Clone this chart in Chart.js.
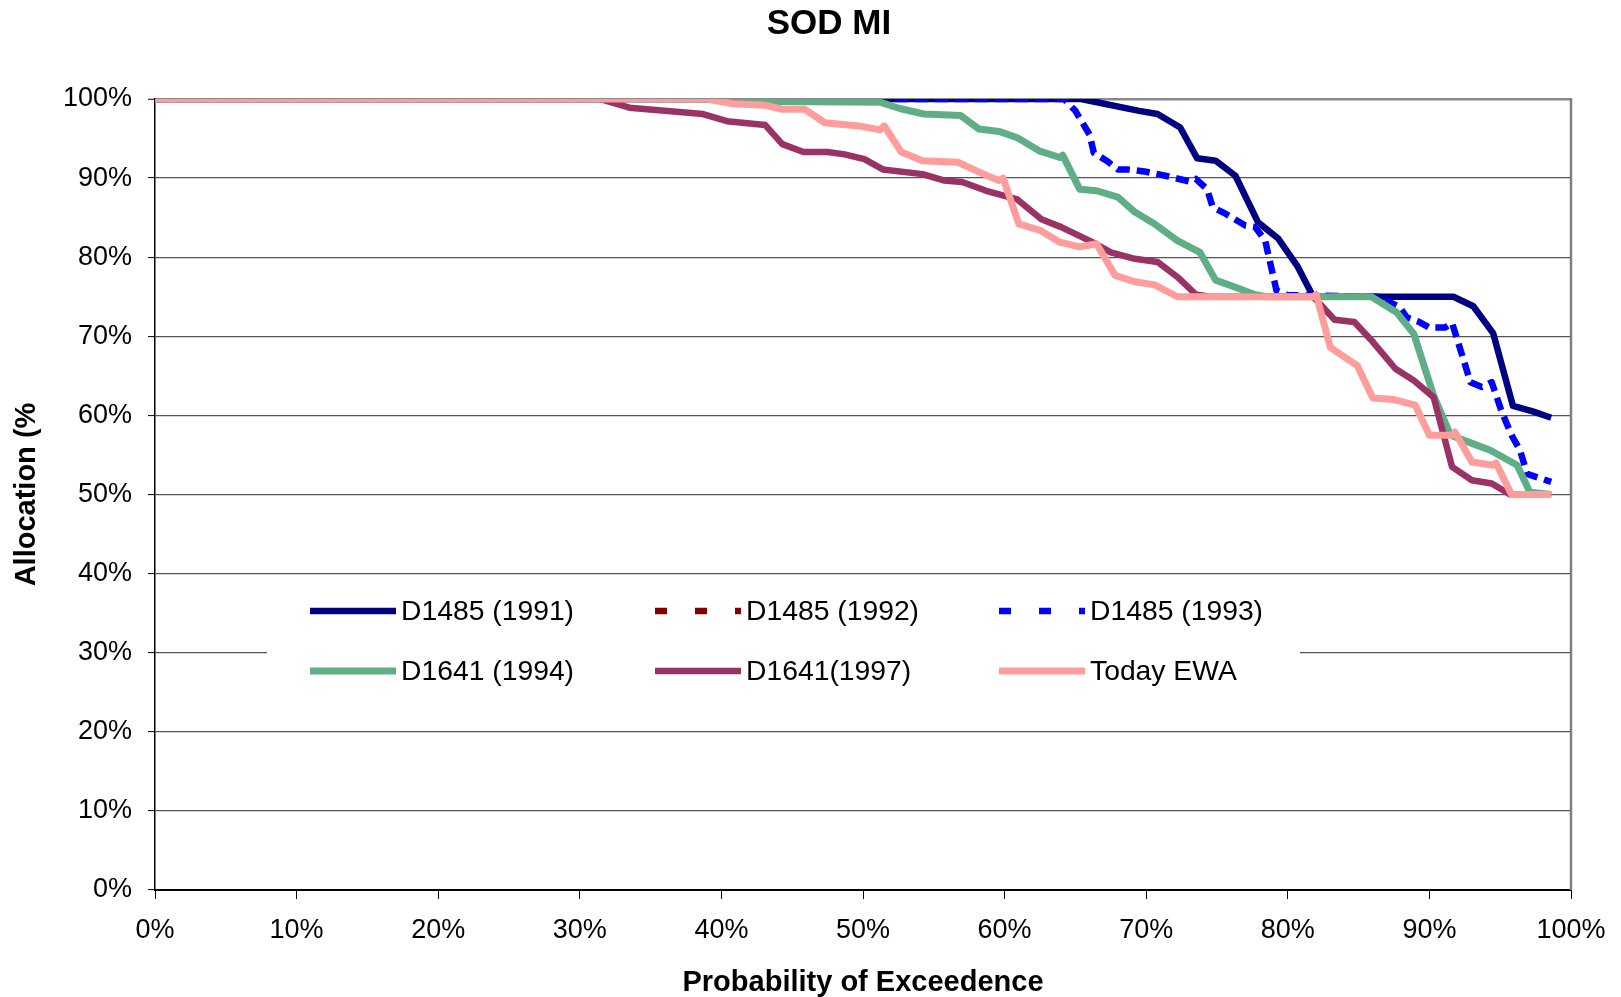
<!DOCTYPE html>
<html>
<head>
<meta charset="utf-8">
<script src="https://cdn.jsdelivr.net/npm/chart.js@4/dist/chart.umd.min.js"></script>
<style>
html,body{margin:0;padding:0;background:#ffffff;}
#wrap{width:1621px;height:997px;position:relative;}
</style>
</head>
<body>
<div id="wrap"><canvas id="chart" width="1621" height="997"></canvas></div>
<script>
// ---- text ----
const chartTitle = 'SOD MI';
const xAxisTitle = 'Probability of Exceedence';
const yAxisTitle = 'Allocation (%';

// ---- ticks ----
const xTickValues = [0, 10, 20, 30, 40, 50, 60, 70, 80, 90, 100];
const yTickValues = [0, 10, 20, 30, 40, 50, 60, 70, 80, 90, 100];

// ---- series names ----
const seriesNames = ['D1485 (1991)', 'D1485 (1992)', 'D1485 (1993)', 'D1641 (1994)', 'D1641(1997)', 'Today EWA'];

// ---- series values (x = probability of exceedence %, y = allocation %) ----
const d1991X = [0, 65.4, 69.5, 70.8, 72.4, 73.6, 74.9, 76.3, 77.9, 79.3, 80.7, 81.8, 91.7, 93.1, 94.5, 95.9, 97.3, 98.6];
const d1991Y = [100, 100, 98.5, 98.1, 96.4, 92.5, 92.2, 90.3, 84.4, 82.4, 78.8, 75, 75, 73.8, 70.4, 61.2, 60.5, 59.7];

const d1992X = [];
const d1992Y = [];

const d1993X = [0, 64.2, 65.0, 66.0, 66.3, 67.2, 68.0, 68.7, 70.0, 71.6, 73.0, 73.5, 74.3, 74.7, 75.6, 77.0, 77.7, 78.4, 79.2, 80.0, 86.4, 87.9, 88.4, 89.3, 90.0, 91.1, 91.6, 92.9, 93.7, 94.4, 95.1, 95.8, 96.4, 96.9, 98.6];
const d1993Y = [100, 100, 98.5, 95.5, 93.2, 92.2, 91.1, 91.1, 90.8, 90.2, 89.6, 89.9, 88.6, 86.3, 85.5, 84.0, 83.8, 82.1, 75.8, 75.2, 75.0, 73.7, 72.4, 71.8, 71.1, 71.1, 71.7, 64.2, 63.6, 64.2, 60.5, 57.5, 55.6, 52.6, 51.6];

const d1994X = [0, 39.2, 41.3, 51.2, 52.6, 54.3, 56.9, 58.2, 59.6, 60.9, 62.5, 63.9, 64.1, 65.3, 66.5, 68.0, 69.2, 70.6, 72.2, 73.8, 74.9, 76.3, 77.6, 78.5, 85.9, 87.7, 88.9, 90.3, 91.5, 93.1, 94.3, 96.2, 97.1, 98.6];
const d1994Y = [100, 100, 99.7, 99.6, 98.8, 98.1, 97.9, 96.2, 95.9, 95.1, 93.4, 92.6, 92.9, 88.6, 88.4, 87.6, 85.7, 84.2, 82.1, 80.6, 77.1, 76.2, 75.3, 75, 75, 73.0, 70.3, 62.5, 57.5, 56.4, 55.6, 53.7, 50.3, 50];

const d1997X = [0, 31.4, 33.5, 38.7, 40.4, 43.1, 44.3, 45.8, 47.5, 48.7, 50.1, 51.4, 54.2, 55.7, 57.0, 58.7, 60.9, 62.6, 64.0, 66.2, 67.5, 69.2, 70.8, 72.2, 73.5, 74.5, 81.8, 83.3, 84.7, 86.0, 87.6, 88.9, 90.3, 91.6, 93.0, 94.4, 95.7, 98.6];
const d1997Y = [100, 100, 98.9, 98.1, 97.2, 96.7, 94.3, 93.3, 93.3, 93.0, 92.4, 91.1, 90.5, 89.7, 89.5, 88.4, 87.3, 84.8, 83.8, 81.9, 80.6, 79.8, 79.4, 77.5, 75.3, 75, 75, 72.1, 71.8, 69.3, 65.9, 64.4, 62.3, 53.5, 51.8, 51.4, 50, 50];

const ewaX = [0, 39.0, 40.8, 43.1, 44.3, 45.9, 47.3, 49.7, 51.2, 51.5, 52.7, 54.2, 56.7, 58.4, 59.6, 59.9, 61.0, 62.5, 63.9, 65.3, 66.5, 67.8, 69.2, 70.6, 72.2, 81.8, 82.0, 83.0, 84.9, 86.0, 87.5, 89.0, 90.0, 91.6, 91.8, 93.0, 94.5, 94.7, 95.8, 98.6];
const ewaY = [100, 100, 99.4, 99.2, 98.7, 98.7, 97.0, 96.6, 96.1, 96.6, 93.3, 92.2, 92.0, 90.6, 89.7, 90.0, 84.2, 83.4, 81.9, 81.3, 81.7, 77.7, 76.9, 76.5, 75, 75, 75.3, 68.6, 66.3, 62.2, 62.0, 61.3, 57.5, 57.5, 57.9, 54.1, 53.7, 54.0, 50, 50];

// ---- styles ----
const FONT = "'Liberation Sans', Arial, Helvetica, sans-serif";
const seriesStyles = [
  {color: '#000080', width: 6.5, dash: [], legendDash: []},
  {color: '#800000', width: 6.5, dash: [13, 7], legendDash: [12, 28]},
  {color: '#0000ff', width: 6.5, dash: [13, 7], legendDash: [12, 28]},
  {color: '#60ae86', width: 7, dash: [], legendDash: []},
  {color: '#993366', width: 6.5, dash: [], legendDash: []},
  {color: '#ff9d9d', width: 7, dash: [], legendDash: []}
];

function zip(xs, ys) { return xs.map((x, i) => ({x: x, y: ys[i]})); }
const seriesData = [zip(d1991X, d1991Y), zip(d1992X, d1992Y), zip(d1993X, d1993Y), zip(d1994X, d1994Y), zip(d1997X, d1997Y), zip(ewaX, ewaY)];

const datasets = seriesNames.map((name, i) => ({
  label: name,
  data: seriesData[i],
  borderColor: seriesStyles[i].color,
  backgroundColor: seriesStyles[i].color,
  borderWidth: seriesStyles[i].width,
  borderDash: seriesStyles[i].dash,
  borderJoinStyle: 'round',
  borderCapStyle: 'butt',
  pointRadius: 0,
  pointHoverRadius: 0,
  tension: 0,
  fill: false,
  order: seriesNames.length - i
}));

// custom title / border / legend
const decorPlugin = {
  id: 'decor',
  afterDraw(chart) {
    const ctx = chart.ctx;
    const ca = chart.chartArea;
    ctx.save();
    // right plot border
    ctx.strokeStyle = '#808080';
    ctx.lineWidth = 2.5;
    ctx.beginPath();
    ctx.moveTo(ca.right, ca.top - 1);
    ctx.lineTo(ca.right, ca.bottom);
    ctx.stroke();
    // title
    ctx.fillStyle = '#000';
    ctx.font = 'bold 35px ' + FONT;
    ctx.textAlign = 'center';
    ctx.textBaseline = 'middle';
    ctx.fillText(chartTitle, 829, 24);
    // legend box
    ctx.fillStyle = '#ffffff';
    ctx.fillRect(267, 582, 1033, 124);
    const cols = [310, 655, 999];
    const rows = [611, 671];
    const sampleLen = 86;
    ctx.font = '28.3px ' + FONT;
    ctx.textAlign = 'left';
    ctx.textBaseline = 'middle';
    seriesNames.forEach((name, i) => {
      const cx = cols[i % 3];
      const cy = rows[Math.floor(i / 3)];
      const st = seriesStyles[i];
      ctx.strokeStyle = st.color;
      ctx.lineWidth = st.width;
      ctx.lineCap = 'butt';
      ctx.setLineDash(st.legendDash);
      ctx.beginPath();
      ctx.moveTo(cx, cy);
      ctx.lineTo(cx + sampleLen, cy);
      ctx.stroke();
      ctx.setLineDash([]);
      ctx.fillStyle = '#000';
      ctx.fillText(name, cx + sampleLen + 5, cy + 1);
    });
    ctx.restore();
  }
};

new Chart(document.getElementById('chart'), {
  type: 'line',
  data: {datasets: datasets},
  plugins: [decorPlugin],
  options: {
    responsive: false,
    animation: false,
    devicePixelRatio: 1,
    layout: {padding: {top: 99, right: 50, bottom: 0, left: 0}},
    plugins: {
      legend: {display: false},
      title: {display: false},
      tooltip: {enabled: false}
    },
    scales: {
      x: {
        type: 'linear',
        min: 0,
        max: 100,
        afterBuildTicks(scale) { scale.ticks = xTickValues.map(v => ({value: v})); },
        afterFit(scale) { scale.height = 107; },
        ticks: {
          callback: v => v + '%',
          color: '#000',
          font: {family: FONT, size: 27},
          padding: 15,
          maxRotation: 0,
          autoSkip: false
        },
        grid: {
          drawOnChartArea: false,
          drawTicks: true,
          tickLength: 9,
          tickColor: '#000',
          tickWidth: 1
        },
        border: {display: true, color: '#000', width: 2},
        title: {
          display: true,
          text: xAxisTitle,
          color: '#000',
          font: {family: FONT, size: 29, weight: 'bold', lineHeight: 1.0},
          padding: {top: 0, bottom: 0}
        }
      },
      y: {
        type: 'linear',
        min: 0,
        max: 100,
        afterBuildTicks(scale) { scale.ticks = yTickValues.map(v => ({value: v})); },
        afterFit(scale) { scale.width = 155; },
        ticks: {
          callback: v => v + '%',
          color: '#000',
          font: {family: FONT, size: 27},
          padding: 16
        },
        grid: {
          color: ctx => (ctx.tick && ctx.tick.value === 100) ? '#8a8a8a' : '#555555',
          lineWidth: ctx => (ctx.tick && ctx.tick.value === 100) ? 2.5 : 1.2,
          drawTicks: true,
          tickLength: 7,
          tickColor: '#000',
          tickWidth: 1
        },
        border: {display: true, color: '#000', width: 1.5},
        title: {
          display: true,
          text: yAxisTitle,
          color: '#000',
          font: {family: FONT, size: 29, weight: 'bold'},
          padding: {top: 10, bottom: 0}
        }
      }
    }
  }
});
</script>
</body>
</html>
